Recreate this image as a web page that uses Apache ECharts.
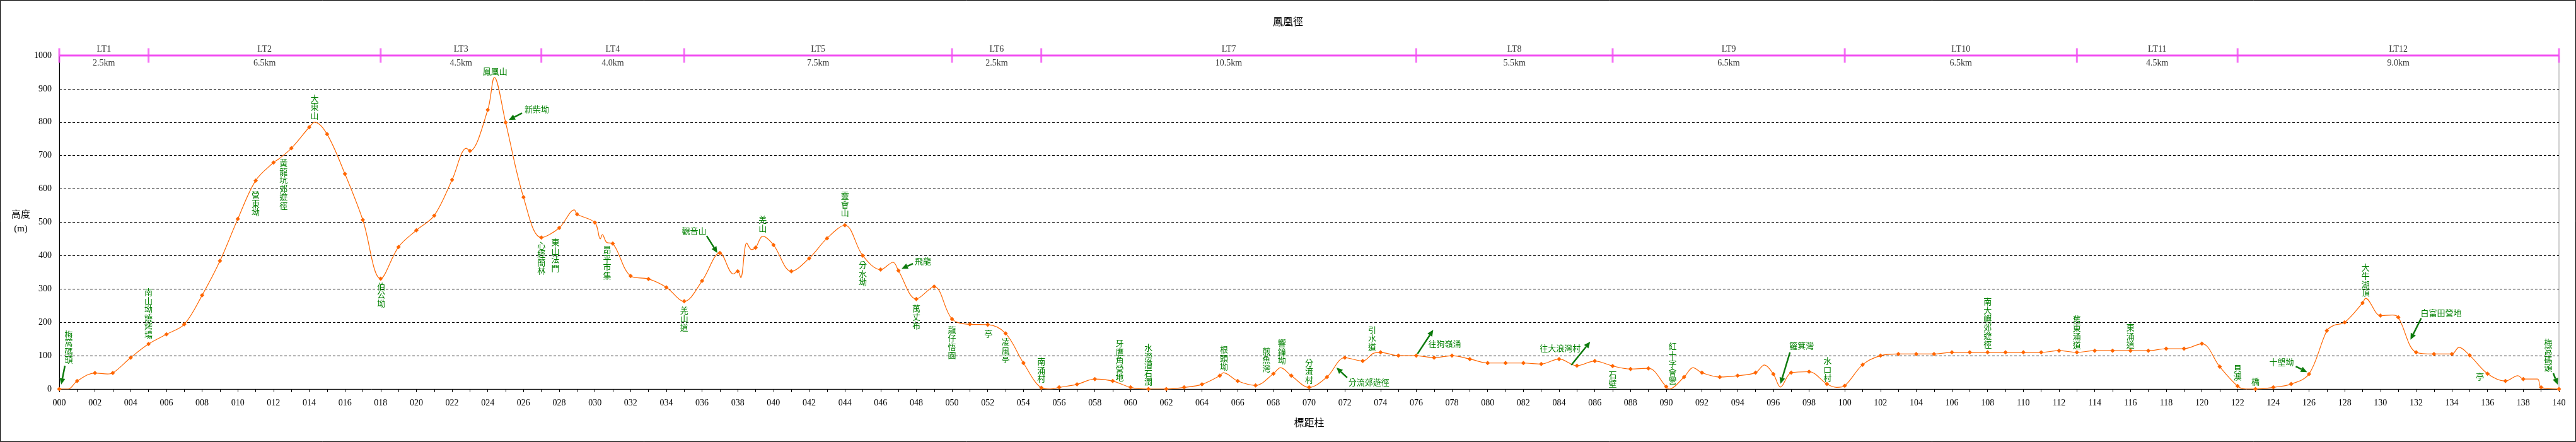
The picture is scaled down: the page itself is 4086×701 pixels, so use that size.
<!DOCTYPE html>
<html><head><meta charset="utf-8">
<script src="https://cdn.jsdelivr.net/npm/echarts/dist/echarts.min.js"></script>
<style>html,body{margin:0;padding:0;background:#fff}#c{width:4086px;height:701px}</style>
</head><body><div id="c"></div>
<script>
const chartTitle = '鳳凰徑';
const xAxisName = '標距柱';
const yAxisName = '高度\n(m)';

// elevation profile: marker-post position and height (m)
const profileX = [0,0.5,1,2,2.7,3,4,5,6,7,8,9,10,11,12,12.3,13,14,14.3,15,16,17,18,19,20,21,22,22.8,23,24,24.37,25,26,27,28,28.85,29,30,30.3,30.42,30.65,31,32,33,34,35,36,37,37.75,38,38.17,38.5,38.77,39,39.4,40,41,42,43,44,45,46,46.7,47,48,49,50,51,52,53,54,55,55.5,56,57,58,59,60,61,62,63,64,65,65.2,66,67,68,68.4,69,70,71,72,73,73.6,74,75,76,77,78,79,80,81,82,83,84,85,86,87,88,89,90,90.15,91,91.5,92,93,94,95,95.5,96,96.4,97,98,99,99.55,100,101,102,103,104,105,106,107,108,109,110,111,112,113,114,115,116,117,118,119,120,121,122,122.45,123,124,125,126,127,127.4,128,129,129.17,130,130.67,131,132,133,134,134.4,135,136,137,137.7,138,138.8,139,140];
const profileY = [0,0,24,48,45,48,94,135,164,194,281,384,510,625,679,690,722,785,800,764,645,507,331,426,476,520,627,722,714,837,934,799,575,454,483,537,524,499,450,463,440,436,339,330,305,263,324,408,345,353,334,438,418,424,458,432,353,392,452,491,400,358,380,355,270,307,210,194,193,167,78,4,0,5,14,30,24,5,0,0,5,14,40,49,24,11,46,64,40,5,36,94,84,107,110,100,100,94,100,90,78,78,78,75,90,70,84,69,60,62,7,0,36,64,49,36,40,49,72,45,6,49,52,15,5,10,73,100,105,105,105,110,110,110,110,110,110,115,110,115,115,115,115,121,121,136,67,9,0,0,5,15,45,175,191,200,258,272,220,222,215,110,105,105,125,101,46,24,40,30,30,5,0];

// trail sections
const sectionNames = ['LT1','LT2','LT3','LT4','LT5','LT6','LT7','LT8','LT9','LT10','LT11','LT12'];
const sectionDist = ['2.5km','6.5km','4.5km','4.0km','7.5km','2.5km','10.5km','5.5km','6.5km','6.5km','4.5km','9.0km'];
const sectionBounds = [0,5,18,27,35,50,55,76,87,100,113,122,140];

// named places along the trail (marker-post position)
const placeNames = ['梅窩碼頭','南山坳燒烤場','營東坳','黃龍坑郊遊徑','大東山','伯公坳','鳳凰山','新柴坳','心經簡林','東山法門','昂平市集','羌山道','觀音山','羌山','靈會山','分水坳','飛龍','萬丈布','龍仔悟園','亭','凌風亭','南涌村','牙鷹角營地','水澇漕石澗','根頭坳','煎魚灣','響鐘坳','分流村','分流郊遊徑','引水道','往狗嶺涌','往大浪灣村','石壁','紅十字會營','籮箕灣','水口村','南大嶼郊遊徑','舊東涌道','東涌道','貝澳','橋','十塱坳','大牛湖頂','白富田營地','亭','梅窩碼頭'];
const placeX = [0,5,11,12,14.3,18,24.37,25,27,28,31,35,37,39.4,44,45,47,48,50,52,53,55,59,61,65.2,68,68.4,70,71,73.6,76,85,87,90,96.4,99,108,113,116,122,123,126,129.17,132,136,140];

// label layout (pixel offsets from the place's point), same order as placeNames
const placeLayout = [
 {v:'top',dx:15,dy:-94,arrow:[9,-37,3,-7]},
 {v:'bottom',dx:0,dy:-8},
 {v:'top',dx:0,dy:16},
 {v:'top',dx:16,dy:-6},
 {v:'bottom',dx:0,dy:-4},
 {v:'top',dx:1,dy:5},
 {h:'center',dx:1,dy:-10},
 {h:'left',dx:30,dy:-21,arrow:[26,-15,5,-4]},
 {v:'top',dx:0,dy:5},
 {v:'top',dx:-6,dy:16},
 {v:'top',dx:-9,dy:3},
 {v:'top',dx:0,dy:7},
 {h:'center',dx:-41,dy:-35,arrow:[-21,-27,-4,0]},
 {v:'bottom',dx:0,dy:-6},
 {v:'bottom',dx:0,dy:-13},
 {v:'top',dx:0,dy:8},
 {h:'left',dx:26,dy:-15,arrow:[23,-11,5,-3]},
 {v:'top',dx:0,dy:8},
 {v:'top',dx:0,dy:10},
 {v:'top',dx:1,dy:7},
 {v:'top',dx:0,dy:7},
 {v:'bottom',dx:0,dy:-8},
 {v:'bottom',dx:11,dy:1},
 {v:'bottom',dx:0,dy:-5},
 {v:'bottom',dx:1,dy:-3},
 {v:'bottom',dx:-11,dy:-2},
 {v:'bottom',dx:2,dy:-5},
 {v:'bottom',dx:0,dy:-6},
 {h:'left',dx:34,dy:8,arrow:[32,1,15,-15]},
 {v:'bottom',dx:-2,dy:-4},
 {h:'left',dx:19,dy:-19,arrow:[2,-3,27,-41]},
 {h:'right',dx:6,dy:-28,arrow:[-9,-1,21,-38]},
 {v:'top',dx:0,dy:7},
 {v:'bottom',dx:10,dy:-3},
 {h:'left',dx:14,dy:-66,arrow:[15,-55,0,-5]},
 {v:'bottom',dx:1,dy:-3},
 {v:'bottom',dx:0,dy:-6},
 {v:'bottom',dx:0,dy:-5},
 {v:'bottom',dx:0,dy:-3},
 {v:'bottom',dx:0,dy:-8},
 {v:'bottom',dx:0,dy:-5},
 {h:'right',dx:-24,dy:-19,arrow:[-21,-12,-3,-3]},
 {v:'bottom',dx:0,dy:-2},
 {h:'left',dx:7,dy:-63,arrow:[8,-54,-9,-20]},
 {h:'center',dx:-12,dy:4},
 {v:'bottom',dx:-17,dy:-27,arrow:[-9,-25,-2,-7]}
];

const ORANGE = '#ff6600';
const MAG = '#f24ff2';
const GREEN_T = '#008000';
const GREEN_A = '#0b7a0b';
const SERIF = '"Liberation Serif", "Noto Sans CJK TC", serif';
const CJK = '"Noto Sans CJK TC", sans-serif';

const sectionMids = sectionNames.map((n,i)=>[(sectionBounds[i]+sectionBounds[i+1])/2, 1000]);

const option = {
  animation: false,
  title: {text: chartTitle, left: 'center', top: 26, padding: 0,
    textStyle: {fontSize: 16, fontWeight: 'normal', color: '#000', fontFamily: CJK}},
  grid: {left: 94, right: 27, top: 88, bottom: 84, show: true, borderColor: '#9a9a9a', borderWidth: 1, containLabel: false},
  xAxis: {
    type: 'value', min: 0, max: 140, interval: 1,
    name: xAxisName, nameLocation: 'middle', nameGap: 45,
    nameTextStyle: {fontSize: 16, color: '#000', fontFamily: CJK},
    axisLine: {onZero: false, lineStyle: {color: '#000', width: 1}},
    axisTick: {length: 5, lineStyle: {color: '#000'}},
    axisLabel: {formatter: v => (Math.round(v) % 2 === 0 ? String(Math.round(v)).padStart(3,'0') : ''),
      fontSize: 14, color: '#000', fontFamily: SERIF, margin: 15},
    splitLine: {show: false}
  },
  yAxis: {
    type: 'value', min: 0, max: 1000, interval: 100,
    name: yAxisName, nameLocation: 'middle', nameRotate: 0, nameGap: 61,
    nameTextStyle: {align: 'center', fontSize: 15, lineHeight: 22, color: '#000', fontFamily: SERIF},
    axisLine: {show: true, lineStyle: {color: '#000', width: 1}},
    axisTick: {show: false},
    axisLabel: {formatter: v => String(Math.round(v)), fontSize: 14, color: '#000', fontFamily: SERIF, margin: 12},
    splitLine: {show: true, lineStyle: {type: [4,3], color: '#000', width: 1}}
  },
  series: [
    {
      type: 'line', name: 'profile',
      data: profileX.map((x,i)=>({value:[x, profileY[i]], symbol: Number.isInteger(x) ? 'diamond' : 'none'})),
      smooth: 0.35, symbolSize: 7, showSymbol: true,
      itemStyle: {color: ORANGE}, lineStyle: {color: ORANGE, width: 1.2}, z: 10, silent: true
    },
    {
      type: 'line', data: [[sectionBounds[0],1000],[sectionBounds[sectionBounds.length-1],1000]],
      symbol: 'none', lineStyle: {color: MAG, width: 3}, clip: false, z: 20, silent: true
    },
    {
      type: 'scatter', data: sectionBounds.map(b=>[b,1000]), symbol: 'rect', symbolSize: [3,23],
      itemStyle: {color: MAG}, clip: false, z: 21, silent: true
    },
    {
      type: 'scatter', data: sectionMids, symbolSize: 0, clip: false, silent: true, z: 22,
      label: {show: true, position: 'top', distance: 3, formatter: p => sectionNames[p.dataIndex],
        fontSize: 14, color: '#000', fontFamily: SERIF}
    },
    {
      type: 'scatter', data: sectionMids, symbolSize: 0, clip: false, silent: true, z: 22,
      label: {show: true, position: 'bottom', distance: 5, formatter: p => sectionDist[p.dataIndex],
        fontSize: 14, color: '#000', fontFamily: SERIF}
    }
  ]
};

const chart = echarts.init(document.getElementById('c'));
chart.setOption(option);

function nearestIndex(x){
  let bi = 0, bd = Infinity;
  profileX.forEach((px,i)=>{ const d = Math.abs(px-x); if (d < bd){bd = d; bi = i;} });
  return bi;
}

const g = [{type:'rect', shape:{x:0.5,y:0.5,width:4085,height:700}, style:{fill:'none', stroke:'#000', lineWidth:1}, silent:true, z:100}];
placeNames.forEach((name,i)=>{
  const idx = nearestIndex(placeX[i]);
  const p = chart.convertToPixel({xAxisIndex:0, yAxisIndex:0}, [profileX[idx], profileY[idx]]);
  const L = placeLayout[i];
  const vertical = !!L.v;
  g.push({type:'text', x:p[0]+L.dx, y:p[1]+L.dy, silent:true, z:50,
    style:{text: vertical ? name.split('').join('\n') : name, fill: GREEN_T,
      fontSize: 13, fontFamily: CJK, lineHeight: 13.5,
      align: vertical ? 'center' : L.h, verticalAlign: vertical ? L.v : 'middle'}});
  if (L.arrow){
    const a = L.arrow;
    const sx=p[0]+a[0], sy=p[1]+a[1], ex=p[0]+a[2], ey=p[1]+a[3];
    const dx=ex-sx, dy=ey-sy, len=Math.hypot(dx,dy), ux=dx/len, uy=dy/len;
    const hl=10, hw=4.5, bx=ex-ux*hl, by=ey-uy*hl;
    g.push({type:'line', silent:true, z:50, shape:{x1:sx,y1:sy,x2:bx,y2:by}, style:{stroke:GREEN_A, lineWidth:2.5}});
    g.push({type:'polygon', silent:true, z:50, shape:{points:[[ex,ey],[bx-uy*hw,by+ux*hw],[bx+uy*hw,by-ux*hw]]}, style:{fill:GREEN_A}});
  }
});
chart.setOption({graphic: g});
</script>
</body></html>
